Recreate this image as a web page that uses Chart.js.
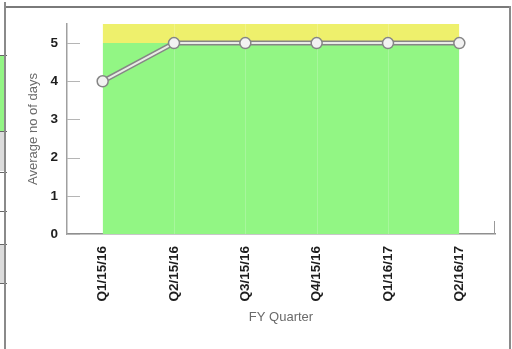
<!DOCTYPE html>
<html>
<head>
<meta charset="utf-8">
<script src="https://cdn.jsdelivr.net/npm/chart.js@4/dist/chart.umd.min.js"></script>
<style>
  html, body { margin: 0; padding: 0; background: #fff; }
  #page { position: relative; width: 512px; height: 349px; overflow: hidden; background: #fff; }
  .frame-top { position: absolute; left: 5px; top: 6px; width: 506px; height: 2px; background: #7a7a7a; }
  .frame-left { position: absolute; left: 4px; top: 2px; width: 2px; height: 347px; background: #8a8a8a; }
  .frame-right { position: absolute; left: 509px; top: 6px; width: 2px; height: 343px; background: #8a8a8a; }
  .cell { position: absolute; left: 0; width: 4px; }
  .rule { position: absolute; left: 0; width: 7px; height: 1px; background: #666; }
  #wrap { position: absolute; left: 0; top: 0; width: 512px; height: 349px; }
</style>
</head>
<body>
<div id="page">
  <div class="cell" style="top:55px;height:76px;background:#93f585;"></div>
  <div class="cell" style="top:131px;height:40px;background:#dcdcdc;"></div>
  <div class="cell" style="top:244px;height:39px;background:#dcdcdc;"></div>
  <div class="rule" style="top:55px;"></div>
  <div class="rule" style="top:131px;"></div>
  <div class="rule" style="top:172px;"></div>
  <div class="rule" style="top:211px;"></div>
  <div class="rule" style="top:244px;"></div>
  <div class="rule" style="top:283px;"></div>
  <div class="frame-top"></div>
  <div class="frame-left"></div>
  <div class="frame-right"></div>
  <div id="wrap"><canvas id="chart" width="512" height="349"></canvas></div>
</div>
<script>
// Quarters on the x axis
const quarters = ['Q1/15/16', 'Q2/15/16', 'Q3/15/16', 'Q4/15/16', 'Q1/16/17', 'Q2/16/17'];
// Average number of days per quarter
const avgDays = [4, 5, 5, 5, 5, 5];
// Green zone runs up to the target, yellow zone above it
const targetLevel = [5, 5, 5, 5, 5, 5];
const upperLevel = [5.5, 5.5, 5.5, 5.5, 5.5, 5.5];

const FONT = '"Liberation Sans", Arial, Helvetica, sans-serif';

// Short inward tick marks along the axes, drawn beneath the data
const inwardTicks = {
  id: 'inwardTicks',
  beforeDatasetsDraw(chart) {
    const ctx = chart.ctx;
    const ys = chart.scales.y, xs = chart.scales.x;
    ctx.save();
    ctx.strokeStyle = '#b5b5b5';
    ctx.lineWidth = 1;
    ys.ticks.forEach(t => {
      const y = Math.round(ys.getPixelForValue(t.value)) + 0.5;
      ctx.beginPath();
      ctx.moveTo(ys.right, y);
      ctx.lineTo(ys.right + 13, y);
      ctx.stroke();
    });
    const xr = Math.round(xs.right) - 0.5;
    ctx.strokeStyle = '#9a9a9a';
    ctx.beginPath();
    ctx.moveTo(xr, xs.top);
    ctx.lineTo(xr, xs.top - 13);
    ctx.stroke();
    ctx.restore();
  },
  // faint lines at each quarter across the coloured zones
  afterDatasetDraw(chart, args) {
    if (args.index !== 2) return;
    const ctx = chart.ctx;
    const xs = chart.scales.x, ys = chart.scales.y;
    ctx.save();
    ctx.strokeStyle = 'rgba(255,255,255,0.2)';
    ctx.lineWidth = 1;
    for (let i = 1; i < quarters.length - 1; i++) {
      const x = Math.round(xs.getPixelForValue(i)) + 0.5;
      ctx.beginPath();
      ctx.moveTo(x, ys.getPixelForValue(upperLevel[i]));
      ctx.lineTo(x, ys.getPixelForValue(0));
      ctx.stroke();
    }
    ctx.restore();
  }
};

new Chart(document.getElementById('chart'), {
  type: 'line',
  data: {
    labels: quarters,
    datasets: [
      {
        // inner light core of the trend line, with the markers
        data: avgDays,
        borderColor: '#e9ece6',
        borderWidth: 2,
        pointRadius: 5.5,
        pointBackgroundColor: '#f2f2f2',
        pointBorderColor: '#858585',
        pointBorderWidth: 1.5,
        fill: false,
        tension: 0
      },
      {
        // darker outer casing of the trend line
        data: avgDays,
        borderColor: '#868686',
        borderWidth: 5,
        pointRadius: 0,
        fill: false,
        tension: 0
      },
      {
        data: upperLevel,
        borderWidth: 0,
        borderColor: 'rgba(0,0,0,0)',
        backgroundColor: '#eef06c',
        pointRadius: 0,
        fill: '+1'
      },
      {
        data: targetLevel,
        borderWidth: 0,
        borderColor: 'rgba(0,0,0,0)',
        backgroundColor: '#92f684',
        pointRadius: 0,
        fill: 'origin'
      }
    ]
  },
  options: {
    responsive: false,
    animation: false,
    events: [],
    layout: { padding: { left: 20, top: 24, right: 17, bottom: 20 } },
    plugins: { legend: { display: false }, tooltip: { enabled: false } },
    scales: {
      x: {
        offset: true,
        grid: { display: false, drawTicks: false },
        border: { display: true, color: '#8f8f8f', width: 1.5 },
        ticks: {
          autoSkip: false,
          minRotation: 90,
          maxRotation: 90,
          padding: 12,
          color: '#1e1e1e',
          font: { family: FONT, size: 13.5, weight: 'bold' }
        },
        title: {
          display: true,
          text: 'FY Quarter',
          color: '#6a6a6a',
          padding: { top: 4, bottom: 4 },
          font: { family: FONT, size: 13 }
        },
        afterFit(scale) { scale.height = 95; }
      },
      y: {
        min: 0,
        max: 5.5,
        grid: { display: false, drawTicks: false },
        border: { display: true, color: '#a0a0a0', width: 1.5 },
        ticks: {
          stepSize: 1,
          includeBounds: false,
          padding: 9,
          color: '#1e1e1e',
          font: { family: FONT, size: 13.5, weight: 'bold' }
        },
        title: {
          display: true,
          text: 'Average no of days',
          color: '#6a6a6a',
          padding: { top: 6, bottom: 4 },
          font: { family: FONT, size: 13 }
        },
        afterFit(scale) { scale.width = 47; }
      }
    }
  },
  plugins: [inwardTicks]
});
</script>
</body>
</html>
